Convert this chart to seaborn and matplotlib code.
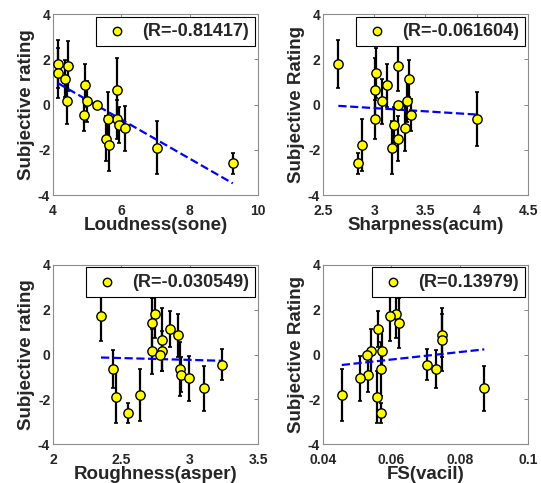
import numpy as np
import pandas as pd
import seaborn as sns
import matplotlib.pyplot as plt

# subjective rating (mean) and error half-width per sound sample
rating = [1.8, 1.4, 1.15, 1.7, 0.15, 0.85, -0.45, 0.15, 0.0, 0.65,
          -0.65, -0.65, -1.5, -1.8, -0.9, -1.05, -1.9, -2.6]
err = [1.05, 1.1, 0.8, 1.1, 1.0, 0.95, 0.7, 0.9, 0.1, 1.4,
       0.85, 1.2, 1.0, 1.15, 0.78, 1.0, 1.17, 0.45]

loudness = [4.14, 4.14, 4.36, 4.43, 4.41, 4.94, 4.91, 4.99, 5.28, 5.87,
            5.87, 5.6, 5.56, 5.64, 5.94, 6.11, 7.03, 9.26]
sharpness = [2.65, 3.017, 3.34, 3.235, 3.076, 3.12, 3.36, 3.32, 3.23, 3.007,
             3.007, 4.0, 3.23, 2.88, 3.19, 3.30, 3.17, 2.84]
roughness = [2.746, 2.722, 2.856, 2.351, 2.722, 2.917, 3.238, 2.80, 2.785, 2.80,
             2.441, 2.93, 3.107, 2.636, 2.936, 2.997, 2.461, 2.551]
fs = [0.0614, 0.0622, 0.0562, 0.0596, 0.054, 0.0749, 0.0703, 0.0572, 0.053, 0.0749,
      0.073, 0.057, 0.0872, 0.0455, 0.0533, 0.0508, 0.0559, 0.0569]

xlabels = ['Loudness(sone)', 'Sharpness(acum)', 'Roughness(asper)', 'FS(vacil)']
ylabels = ['Subjective rating', 'Subjective Rating', 'Subjective rating', 'Subjective Rating']
r_labels = ['(R=-0.81417)', '(R=-0.061604)', '(R=-0.030549)', '(R=0.13979)']
xlims = [(4, 10), (2.5, 4.5), (2, 3.5), (0.04, 0.1)]
xticks = [[4, 6, 8, 10], [2.5, 3, 3.5, 4, 4.5], [2, 2.5, 3, 3.5], [0.04, 0.06, 0.08, 0.1]]
xticklabels = [['4', '6', '8', '10'], ['2.5', '3', '3.5', '4', '4.5'],
               ['2', '2.5', '3', '3.5'], ['0.04', '0.06', '0.08', '0.1']]

sns.set_style('white')
plt.rcParams['font.family'] = ['Liberation Sans', 'DejaVu Sans']
plt.rcParams['font.weight'] = 'bold'

fig = plt.figure(figsize=(5.41, 4.83), dpi=100)
positions = [[0.098, 0.596, 0.379, 0.375], [0.597, 0.596, 0.379, 0.375],
             [0.098, 0.08, 0.379, 0.372], [0.597, 0.08, 0.379, 0.372]]

for i, xs in enumerate([loudness, sharpness, roughness, fs]):
    ax = fig.add_axes(positions[i])
    df = pd.DataFrame({'x': xs, 'y': rating, 'e': err})
    ax.errorbar(df['x'], df['y'], yerr=df['e'], fmt='none', ecolor='black',
                elinewidth=1.6, capsize=1.5, capthick=1.2, zorder=2)
    sns.regplot(data=df, x='x', y='y', ax=ax, scatter=False, ci=None, truncate=True,
                line_kws={'color': 'blue', 'ls': '--', 'lw': 1.6, 'zorder': 3})
    sns.scatterplot(data=df, x='x', y='y', ax=ax, color='yellow', edgecolor='black',
                    linewidth=1.0, s=45, zorder=4, label=r_labels[i])
    ax.set_xlim(xlims[i])
    ax.set_ylim(-4, 4)
    ax.set_xticks(xticks[i])
    ax.set_xticklabels(xticklabels[i])
    ax.set_yticks([-4, -2, 0, 2, 4])
    ax.set_yticklabels(['-4', '-2', '0', '2', '4'])
    ax.tick_params(direction='in', length=3, width=0.6, color='0.45', labelsize=10,
                   top=True, right=True, pad=2)
    ax.tick_params(axis='x', pad=6.5)
    for t in ax.get_xticklabels() + ax.get_yticklabels():
        t.set_fontweight('bold')
    for sp in ax.spines.values():
        sp.set_color('0.55')
        sp.set_linewidth(0.8)
    ax.set_xlabel(xlabels[i], fontsize=13.5, fontweight='bold', labelpad=-1)
    ax.set_ylabel(ylabels[i], fontsize=13.5, fontweight='bold', labelpad=2)
    leg = ax.legend(loc='upper right', fontsize=13, frameon=True, fancybox=False,
                    framealpha=1, borderaxespad=0.15, handletextpad=0.6,
                    handlelength=1.6, borderpad=0.35, markerscale=0.9)
    leg.set_zorder(10)
    leg.get_frame().set_edgecolor('black')
    leg.get_frame().set_linewidth(0.8)
    for t in leg.get_texts():
        t.set_fontweight('bold')

fig.savefig('out.png', dpi=100)
